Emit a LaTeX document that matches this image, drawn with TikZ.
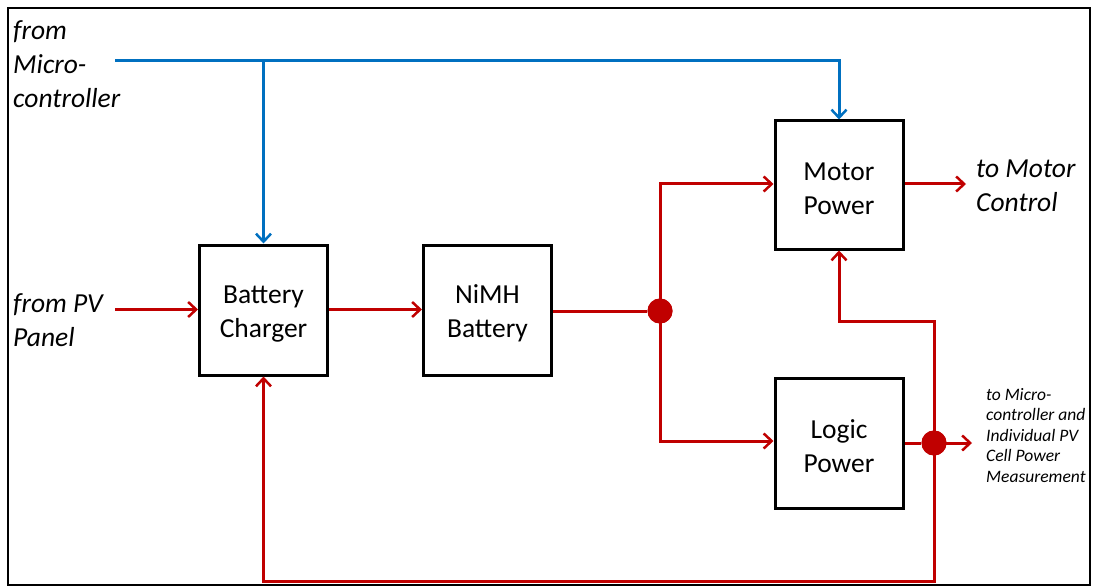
\documentclass[tikz,border=0pt]{standalone}
\usepackage{fontspec}
\setmainfont{Carlito}
\usetikzlibrary{arrows.meta}
\definecolor{pred}{HTML}{C00000}
\definecolor{pblue}{HTML}{0070C0}
\newcommand{\boxstrut}{\rule{0pt}{26pt}}
\tikzset{
  blockbox/.style={draw=black, line width=3pt, fill=white, minimum width=128pt, minimum height=130pt, align=center, font=\fontsize{27.5}{34}\selectfont, inner sep=0pt},
  redline/.style={draw=pred, line width=3pt},
  blueline/.style={draw=pblue, line width=3pt},
  tip/.style={-{Straight Barb[length=8pt,width=15pt,line width=2.5pt]}},
  dotnode/.style={circle, fill=pred, minimum size=25pt, inner sep=0pt},
  labeltext/.style={align=left, font=\itshape\fontsize{27.5}{34}\selectfont, inner sep=0pt},
  smalltext/.style={align=left, font=\itshape\fontsize{17.5}{20.5}\selectfont, inner sep=0pt}
}
\begin{document}
\begin{tikzpicture}[x=1pt,y=-1pt]
\useasboundingbox (0,0) rectangle (1094,588);
\draw[line width=2.5pt] (8,8) rectangle (1090,585);

\node[blockbox] (charger) at (263.5,310) {\boxstrut Battery\\Charger};
\node[blockbox] (nimh) at (487.5,310) {\boxstrut NiMH\\Battery};
\node[blockbox, minimum height=128pt] (motor) at (839,185) {\boxstrut Motor\\Power};
\node[blockbox] (logic) at (839,443) {\boxstrut Logic\\Power};

\node[labeltext, anchor=north west] (fmc) at (13,20) {from\\Micro-\\controller};
\node[labeltext, anchor=west] (fpv) at (13,320) {from PV\\Panel};
\node[labeltext, anchor=west] (tmc) at (976,186) {to Motor\\Control};
\node[smalltext, anchor=north west] (tmeas) at (986,388) {to Micro-\\controller and\\Individual PV\\Cell Power\\Measurement};

% blue control lines
\coordinate (bstart) at (115,61);
\coordinate (bsplit) at (263.5,61);
\draw[blueline, tip] (bstart) -| (motor.north);
\draw[blueline, tip] (bsplit) -- (charger.north);

% red power lines
\coordinate (pvstart) at (115,309.5);
\draw[redline, tip] (pvstart) -- (pvstart -| charger.west);
\draw[redline, tip] (charger.east |- pvstart) -- (nimh.west |- pvstart);
\node[dotnode] (dot1) at (660,311) {};
\draw[redline] (nimh.east |- dot1) -- (dot1);
\draw[redline, tip] (dot1.center) |- (motor.west |- 0,184);
\draw[redline, tip] (dot1.center) |- (logic.west |- 0,441);

\coordinate (motorout) at (966,184);
\draw[redline, tip] (motor.east |- motorout) -- (motorout);

\node[dotnode] (dot2) at (934,443) {};
\coordinate (logicout) at (972,443);
\draw[redline] (logic.east |- dot2) -- (dot2);
\draw[redline, tip] (dot2.center) -- (logicout);

\coordinate (fbm) at (934,321);
\coordinate (fbb) at (934,581);
\draw[redline, tip] (dot2.center) -- (fbm) -| (motor.south);
\draw[redline, tip] (dot2.center) -- (fbb) -| (charger.south);
\node[dotnode] at (dot1) {};
\node[dotnode] at (dot2) {};
\end{tikzpicture}
\end{document}
